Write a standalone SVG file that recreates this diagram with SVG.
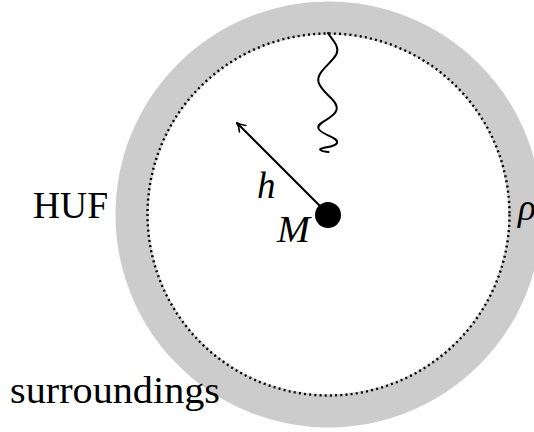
<svg xmlns="http://www.w3.org/2000/svg" width="534" height="432" viewBox="0 0 534 432">
<style>
text{font-family:'Liberation Serif','Times New Roman',serif;font-size:37px;fill:#000}
.it{font-style:italic}
.ln{fill:none;stroke:#000;stroke-width:2;stroke-linecap:round;stroke-linejoin:round}
</style>
<defs>
<marker id="arr" viewBox="0 0 12 12" refX="10" refY="6" markerWidth="12" markerHeight="12" markerUnits="userSpaceOnUse" orient="auto">
<path d="M2,1.5 Q6,5 10.5,6 Q6,7 2,10.5" fill="none" stroke="#000" stroke-width="1.6" stroke-linecap="round"/>
</marker>
</defs>
<rect width="534" height="432" fill="#fff"/>
<g id="huf-shell">
<circle cx="328.5" cy="214.5" r="196.5" fill="none" stroke="#cccccc" stroke-width="33"/>
<circle cx="328.5" cy="214.5" r="181" fill="none" stroke="#000" stroke-width="2.4" stroke-dasharray="2 3.2"/>
</g>
<g id="connectors">
<path class="ln" marker-end="url(#arr)" d="M328,214 L237,123"/>
<path class="ln" d="M328,33 C332,40 340,46 336.5,54 C332,63 316,72 318.5,82 C321,93 339,100 336.5,110 C334,119 316,122 318.5,128.5 C321,135 339,137 337,143 C335,147.5 322,147 320,149.5 C322,152 326,151.5 328.5,152"/>
</g>
<g id="mass">
<circle cx="328" cy="215" r="13" fill="#000"/>
<text class="it" x="277" y="242" textLength="33" lengthAdjust="spacingAndGlyphs">M</text>
</g>
<g id="label-h"><text class="it" x="257" y="198">h</text></g>
<g id="label-huf"><text x="33" y="218" textLength="75" lengthAdjust="spacingAndGlyphs">HUF</text></g>
<g id="label-rho"><text class="it" x="518" y="220">ρ</text></g>
<g id="label-surroundings"><text x="10" y="403" textLength="210" lengthAdjust="spacingAndGlyphs">surroundings</text></g>
</svg>
